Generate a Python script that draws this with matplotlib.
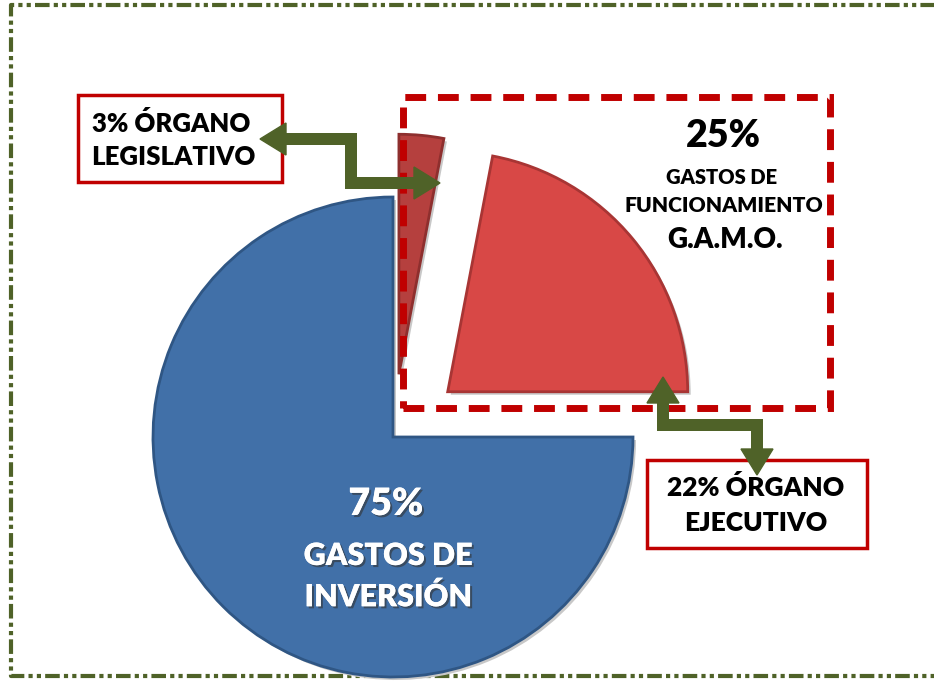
import numpy as np
import matplotlib.pyplot as plt
import matplotlib.patheffects as pe
from matplotlib.patches import Rectangle

# Data
slice_names = ["ÓRGANO LEGISLATIVO", "ÓRGANO EJECUTIVO", "GASTOS DE INVERSIÓN"]
slice_values = [3, 22, 75]
slice_colors = ["#B5403E", "#D84846", "#4170A8"]
slice_edges = ["#8E2F2E", "#A83534", "#2F5684"]
explode_px = [63, 71, 0]   # pie() takes explode in data units (= pixels here)

W, H = 934, 682
GREEN = "#4F6228"
RED = "#C00000"


def py(y):
    # pixel row (from top) -> data y (from bottom)
    return H - y


def elbow_arrow(ax, pts, color, lw_px=12, head_len=26, head_w=32):
    """double headed arrow that follows the given pixel points"""
    pts = np.array([(x, py(y)) for x, y in pts], float)
    shaft = pts.copy()
    for tip_i, nb_i in [(0, 1), (-1, -2)]:
        tip = pts[tip_i]
        d = tip - pts[nb_i]
        d = d / np.hypot(*d)
        perp = np.array([-d[1], d[0]])
        base = tip - d * head_len
        shaft[tip_i] = base + d * 2
        tri = np.array([tip, base + perp * head_w / 2, base - perp * head_w / 2])
        ax.fill(tri[:, 0], tri[:, 1], color=color, zorder=6)
    ax.plot(shaft[:, 0], shaft[:, 1], color=color, lw=lw_px * 0.72,
            solid_joinstyle="miter", solid_capstyle="butt", zorder=6)


fig = plt.figure(figsize=(W / 100, H / 100), dpi=100)
ax = fig.add_axes([0, 0, 1, 1])
plt.rcParams["font.family"] = ["Lato", "DejaVu Sans"]

# soft shadow under the pie
sh, _ = ax.pie(slice_values, explode=explode_px, startangle=90, counterclock=False,
               center=(396, py(440)), radius=240,
               colors=["#c8c8c8"] * 3, wedgeprops=dict(linewidth=0))
for w in sh:
    w.set_zorder(2)

wedges, _ = ax.pie(slice_values, explode=explode_px, startangle=90, counterclock=False,
                   center=(393, py(437)), radius=240,
                   colors=slice_colors, wedgeprops=dict(linewidth=2))
for w, ec in zip(wedges, slice_edges):
    w.set_edgecolor(ec)
    w.set_zorder(3)

ax.set_xlim(0, W)
ax.set_ylim(0, H)
ax.set_aspect("equal")
ax.axis("off")

# outer dash-dot frame (open on the right side)
frame_ls = (0, (3.5, 1, 1, 1, 1, 1))
ax.plot([950, 11, 11, 950], [py(5), py(5), py(676), py(676)], color=GREEN, lw=3,
        linestyle=frame_ls, solid_joinstyle="miter", zorder=1)

# red dashed box around the 25 %
ax.add_patch(Rectangle((403, py(408)), 830 - 403, 408 - 97, fill=False,
                       edgecolor=RED, lw=5, linestyle=(0, (3, 1.7)), zorder=5))

# label boxes
ax.add_patch(Rectangle((78, py(182)), 282 - 78, 182 - 95, facecolor="white",
                       edgecolor=RED, lw=2.5, zorder=5))
ax.add_patch(Rectangle((647, py(548)), 867 - 647, 548 - 460, facecolor="white",
                       edgecolor=RED, lw=2.5, zorder=5))

lab = dict(ha="center", va="center", fontweight="heavy", color="black", zorder=7)
ax.text(171, py(124), f"{slice_values[0]}% ÓRGANO", fontsize=18.5, **lab)
ax.text(173, py(157), "LEGISLATIVO", fontsize=18.5, **lab)
ax.text(756, py(488), f"{slice_values[1]}% ÓRGANO", fontsize=19, **lab)
ax.text(756, py(523), "EJECUTIVO", fontsize=19, **lab)

# 25 % block
ax.text(723, py(136), f"{slice_values[0] + slice_values[1]}%", fontsize=27, **lab)
ax.text(722, py(178), "GASTOS DE", fontsize=14.5, **lab)
ax.text(724, py(205), "FUNCIONAMIENTO", fontsize=15.2, **lab)
ax.text(725, py(240), "G.A.M.O.", fontsize=20, **lab)

# 75 % label inside the blue slice
shadow = [pe.withSimplePatchShadow(offset=(1.5, -1.5), shadow_rgbFace="#333333", alpha=0.6),
          pe.Normal()]
wl = dict(ha="center", va="center", fontweight="heavy", color="white", zorder=7,
          path_effects=shadow)
ax.text(386, py(504), f"{slice_values[2]}%", fontsize=27, **wl)
ax.text(388, py(556), "GASTOS DE", fontsize=22, **wl)
ax.text(388, py(597), "INVERSIÓN", fontsize=22, **wl)

# green connector arrows
elbow_arrow(ax, [(260, 139), (351, 139), (351, 183), (440, 183)], GREEN)
elbow_arrow(ax, [(663, 377), (663, 425), (757, 425), (757, 475)], GREEN)

fig.savefig("out.png", dpi=100)
